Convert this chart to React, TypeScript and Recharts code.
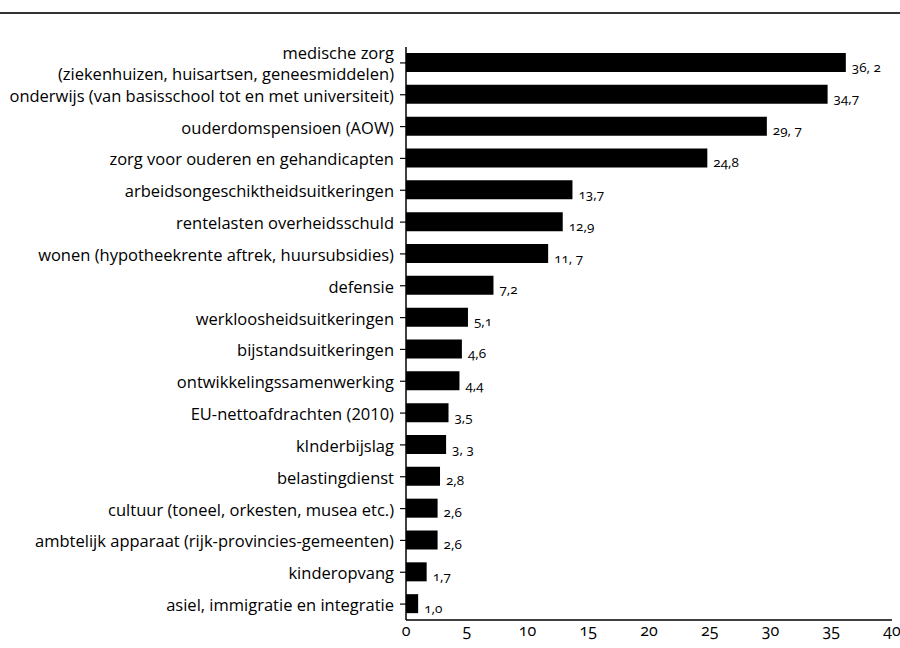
import { Bar, BarChart, LabelList, XAxis, YAxis } from "recharts";

// Rijksuitgaven per post, in miljarden euro
const categories = [
  "medische zorg\n(ziekenhuizen, huisartsen, geneesmiddelen)",
  "onderwijs (van basisschool tot en met universiteit)",
  "ouderdomspensioen (AOW)",
  "zorg voor ouderen en gehandicapten",
  "arbeidsongeschiktheidsuitkeringen",
  "rentelasten overheidsschuld",
  "wonen (hypotheekrente aftrek, huursubsidies)",
  "defensie",
  "werkloosheidsuitkeringen",
  "bijstandsuitkeringen",
  "ontwikkelingssamenwerking",
  "EU-nettoafdrachten (2010)",
  "kInderbijslag",
  "belastingdienst",
  "cultuur (toneel, orkesten, musea etc.)",
  "ambtelijk apparaat (rijk-provincies-gemeenten)",
  "kinderopvang",
  "asiel, immigratie en integratie",
];

const values = [36.2, 34.7, 29.7, 24.8, 13.7, 12.9, 11.7, 7.2, 5.1, 4.6, 4.4, 3.5, 3.3, 2.8, 2.6, 2.6, 1.7, 1.0];

const valueLabels = [
  "36, 2", "34,7", "29, 7", "24,8", "13,7", "12,9", "11,  7", "7,2", "5,1",
  "4,6", "4,4", "3,5", "3, 3", "2,8", "2,6", "2,6", "1,7", "1,0",
];

const xTicks = [0, 5, 10, 15, 20, 25, 30, 35, 40];

const FONT = "'Open Sans', 'DejaVu Sans', sans-serif";

const rows = categories.map((name, i) => ({
  name,
  value: values[i],
  label: valueLabels[i],
}));

function CategoryTick({ x, y, payload }: { x?: number; y?: number; payload?: { value: string } }) {
  const lines = String(payload?.value ?? "").split("\n");
  const lineHeight = 21;
  const start = -((lines.length - 1) * lineHeight) / 2;
  return (
    <text
      x={(x ?? 0) - 4}
      y={(y ?? 0) + start}
      textAnchor="end"
      fill="#000"
      fontSize={16.5}
      fontFamily={FONT}
      dominantBaseline="central"
    >
      {lines.map((line, i) => (
        <tspan key={i} x={(x ?? 0) - 4} dy={i === 0 ? 0 : lineHeight}>
          {line}
        </tspan>
      ))}
    </text>
  );
}

function NumberTick({ x, y, payload }: { x?: number; y?: number; payload?: { value: number } }) {
  return (
    <text
      x={x}
      y={(y ?? 0) + 8}
      textAnchor="middle"
      fill="#000"
      fontSize={16}
      fontFamily={FONT}
      style={{ fontVariantNumeric: "oldstyle-nums" }}
    >
      {payload?.value}
    </text>
  );
}

function ValueLabel(props: any) {
  const { x, y, width, height, value } = props;
  return (
    <text
      x={x + width + 6}
      y={y + height / 2 + 4}
      fill="#000"
      fontSize={13.5}
      fontFamily={FONT}
      dominantBaseline="central"
      style={{ fontVariantNumeric: "oldstyle-nums" }}
    >
      {value}
    </text>
  );
}

export default function App() {
  return (
    <div
      style={{
        position: "absolute",
        top: 0,
        left: 0,
        width: 900,
        height: 648,
        background: "#fff",
        fontFamily: FONT,
      }}
    >
      {/* scanned page rule above the chart */}
      <div
        style={{
          position: "absolute",
          top: 12,
          left: 0,
          width: 900,
          height: 0,
          borderTop: "2px solid #333",
        }}
      />
      <BarChart
        width={900}
        height={648}
        data={rows}
        layout="vertical"
        margin={{ top: 47, right: 8, bottom: 0, left: 0 }}
      >
        <XAxis
          type="number"
          domain={[0, 40]}
          ticks={xTicks}
          interval={0}
          height={28}
          axisLine={{ stroke: "#000", strokeWidth: 1.5 }}
          tickLine={false}
          tick={<NumberTick />}
        />
        <YAxis
          type="category"
          dataKey="name"
          width={406}
          interval={0}
          axisLine={{ stroke: "#000", strokeWidth: 1.5 }}
          tickLine={{ stroke: "#000", strokeWidth: 1.2 }}
          tickSize={6}
          tick={<CategoryTick />}
        />
        <Bar dataKey="value" fill="#000" barSize={19} isAnimationActive={false}>
          <LabelList dataKey="label" content={<ValueLabel />} />
        </Bar>
      </BarChart>
    </div>
  );
}
